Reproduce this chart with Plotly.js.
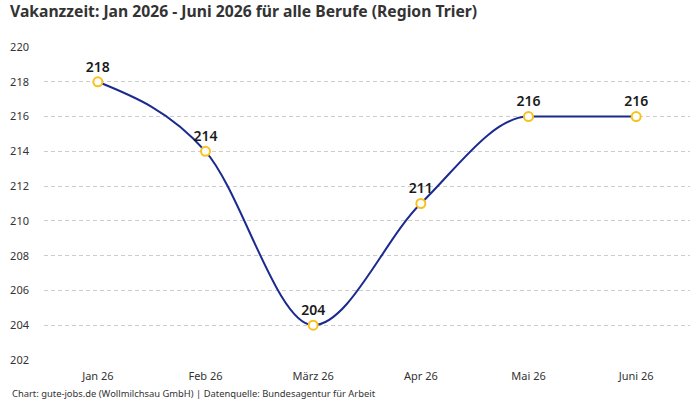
<!DOCTYPE html>
<html>
<head>
<meta charset="utf-8">
<script src="https://cdn.plot.ly/plotly-3.0.1.min.js"></script>
<style>
  html, body { margin: 0; padding: 0; background: #ffffff; }
  #chart { width: 700px; height: 400px; }
</style>
</head>
<body>
<div id="chart"></div>
<script>
// Monthly vacancy duration (days), region Trier
const months = ["Jan 26", "Feb 26", "März 26", "Apr 26", "Mai 26", "Juni 26"];
const vacancyDays = [218, 214, 204, 211, 216, 216];
const yTicks = [202, 204, 206, 208, 210, 212, 214, 216, 218, 220];

const FONT = "'Noto Sans', 'IBM Plex Sans', sans-serif";
const LINE_COLOR = "#1b2a8f";

// Monotone cubic (Fritsch–Carlson, as in d3.curveMonotoneX) path in data
// coordinates; x uses the category index so the axis maps it to pixels.
function monotonePath(ys) {
  const n = ys.length;
  const s = [];
  for (let i = 0; i < n - 1; i++) s.push(ys[i + 1] - ys[i]);
  const sign = v => (v > 0) - (v < 0);
  const t = new Array(n).fill(0);
  for (let i = 1; i < n - 1; i++) {
    const s0 = s[i - 1], s1 = s[i], p = (s0 + s1) / 2;
    t[i] = (sign(s0) + sign(s1)) * Math.min(Math.abs(s0), Math.abs(s1), 0.5 * Math.abs(p)) || 0;
  }
  t[0] = (3 * s[0] - t[1]) / 2;
  t[n - 1] = (3 * s[n - 2] - t[n - 2]) / 2;
  let d = `M${0},${ys[0]}`;
  for (let i = 0; i < n - 1; i++) {
    const dx = 1 / 3;
    d += ` C${i + dx},${ys[i] + dx * t[i]} ${i + 1 - dx},${ys[i + 1] - dx * t[i + 1]} ${i + 1},${ys[i + 1]}`;
  }
  return d;
}

const points = {
  x: months.map((_, i) => i),
  y: vacancyDays,
  type: "scatter",
  mode: "markers+text",
  marker: { size: 9, color: "#ffffff", line: { color: "#f7c21b", width: 2 } },
  text: vacancyDays.map(String),
  textposition: "top center",
  textfont: { family: FONT, size: 14, color: "#1a1a1a", weight: 600 },
  cliponaxis: false,
  hoverinfo: "skip"
};

const layout = {
  width: 700,
  height: 400,
  margin: { l: 44, r: 10, t: 47, b: 40 },
  paper_bgcolor: "#ffffff",
  plot_bgcolor: "#ffffff",
  showlegend: false,
  font: { family: FONT, color: "#333333" },
  title: {
    text: "<b>Vakanzzeit: Jan 2026 - Juni 2026 für alle Berufe (Region Trier)</b>",
    x: 10 / 700, xref: "container", xanchor: "left",
    y: 1 - 11.5 / 400, yref: "container", yanchor: "middle",
    pad: { t: 0, l: 0 },
    font: { family: FONT, size: 15.7, color: "#333333" }
  },
  xaxis: {
    range: [-0.5, months.length - 0.5],
    tickvals: months.map((_, i) => i),
    ticktext: months,
    showgrid: false,
    zeroline: false,
    showline: false,
    ticks: "",
    ticklabelstandoff: 8,
    tickfont: { family: FONT, size: 11, color: "#333333" }
  },
  yaxis: {
    range: [202, 220],
    tickvals: yTicks,
    ticktext: yTicks.map(String),
    showgrid: true,
    gridcolor: "#cccccc",
    griddash: "4px,3px",
    gridwidth: 1,
    zeroline: false,
    showline: false,
    ticks: "",
    ticklabelstandoff: 14,
    tickfont: { family: FONT, size: 11, color: "#333333" }
  },
  shapes: [{
    type: "path",
    xref: "x", yref: "y",
    path: monotonePath(vacancyDays),
    line: { color: LINE_COLOR, width: 2 },
    layer: "between"
  }],
  annotations: [{
    text: "Chart: gute-jobs.de (Wollmilchsau GmbH) | Datenquelle: Bundesagentur für Arbeit",
    xref: "paper", yref: "paper",
    x: (10 - 44) / 646, y: (360 - 393) / 313,
    xanchor: "left", yanchor: "middle",
    showarrow: false,
    font: { family: FONT, size: 9.4, color: "#333333" }
  }]
};

Plotly.newPlot("chart", [points], layout, { displayModeBar: false, staticPlot: true });
</script>
</body>
</html>
